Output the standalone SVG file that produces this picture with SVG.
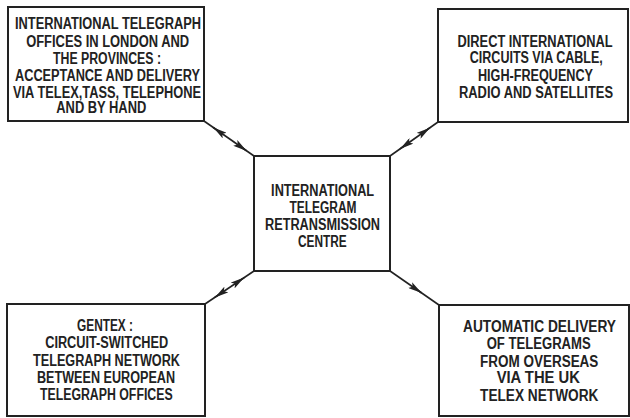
<svg xmlns="http://www.w3.org/2000/svg" width="630" height="418" viewBox="0 0 630 418">
<style>
  .box { fill: #ffffff; stroke: #222222; stroke-width: 2; }
  .lbl { font-family: "Liberation Sans", "DejaVu Sans", sans-serif; font-size: 16px; font-weight: bold; fill: #222222; }
  .conn { stroke: #222222; stroke-width: 1.6; fill: none; }
</style>
<defs>
  <marker id="ah" viewBox="0 0 14 7" refX="14" refY="3.5" markerWidth="14" markerHeight="7" markerUnits="userSpaceOnUse" orient="auto">
    <path d="M0,0 L14,3.5 L0,7 L3,3.5 z" fill="#222222"/>
  </marker>
</defs>
<rect x="0" y="0" width="630" height="418" fill="#ffffff"/>

<g id="connectors">
  <line class="conn" x1="204" y1="121" x2="254" y2="156"/>
  <path class="conn" d="M217.4,130.4 L213.3,127.5" marker-end="url(#ah)"/>
  <path class="conn" d="M242.6,148.0 L246.7,150.9" marker-end="url(#ah)"/>

  <line class="conn" x1="390" y1="156" x2="438" y2="122"/>
  <path class="conn" d="M425.9,130.6 L430,127.7" marker-end="url(#ah)"/>
  <path class="conn" d="M404.1,146.0 L400,148.9" marker-end="url(#ah)"/>

  <line class="conn" x1="254" y1="271" x2="205" y2="304"/>
  <path class="conn" d="M240.1,280.4 L244.2,277.6" marker-end="url(#ah)"/>
  <path class="conn" d="M218.9,294.6 L214.8,297.4" marker-end="url(#ah)"/>

  <line class="conn" x1="390" y1="271" x2="439" y2="305"/>
  <path class="conn" d="M417.6,290.2 L421.7,293.0" marker-end="url(#ah)"/>
</g>

<g id="offices">
  <rect class="box" x="8" y="7" width="196" height="114"/>
  <text class="lbl" x="108" y="29.3" text-anchor="middle" textLength="186" lengthAdjust="spacingAndGlyphs">INTERNATIONAL TELEGRAPH</text>
  <text class="lbl" x="107.7" y="46.7" text-anchor="middle" textLength="163" lengthAdjust="spacingAndGlyphs">OFFICES IN LONDON AND</text>
  <text class="lbl" x="107" y="64" text-anchor="middle" textLength="108" lengthAdjust="spacingAndGlyphs">THE PROVINCES :</text>
  <text class="lbl" x="107.5" y="81" text-anchor="middle" textLength="185" lengthAdjust="spacingAndGlyphs">ACCEPTANCE AND DELIVERY</text>
  <text class="lbl" x="107" y="97.7" text-anchor="middle" textLength="188" lengthAdjust="spacingAndGlyphs">VIA TELEX,TASS, TELEPHONE</text>
  <text class="lbl" x="101.3" y="113.3" text-anchor="middle" textLength="90" lengthAdjust="spacingAndGlyphs">AND BY HAND</text>
</g>

<g id="circuits">
  <rect class="box" x="438" y="9" width="190" height="113"/>
  <text class="lbl" x="535" y="46.7" text-anchor="middle" textLength="155" lengthAdjust="spacingAndGlyphs">DIRECT INTERNATIONAL</text>
  <text class="lbl" x="536.3" y="63.3" text-anchor="middle" textLength="133" lengthAdjust="spacingAndGlyphs">CIRCUITS VIA CABLE,</text>
  <text class="lbl" x="535.5" y="81" text-anchor="middle" textLength="115" lengthAdjust="spacingAndGlyphs">HIGH-FREQUENCY</text>
  <text class="lbl" x="536" y="98.3" text-anchor="middle" textLength="154" lengthAdjust="spacingAndGlyphs">RADIO AND SATELLITES</text>
</g>

<g id="centre">
  <rect class="box" x="254" y="156" width="136" height="115"/>
  <text class="lbl" x="322.6" y="196" text-anchor="middle" textLength="103" lengthAdjust="spacingAndGlyphs">INTERNATIONAL</text>
  <text class="lbl" x="323" y="212.7" text-anchor="middle" textLength="67" lengthAdjust="spacingAndGlyphs">TELEGRAM</text>
  <text class="lbl" x="322.5" y="230" text-anchor="middle" textLength="115" lengthAdjust="spacingAndGlyphs">RETRANSMISSION</text>
  <text class="lbl" x="322.3" y="246.7" text-anchor="middle" textLength="48.7" lengthAdjust="spacingAndGlyphs">CENTRE</text>
</g>

<g id="gentex">
  <rect class="box" x="7" y="304" width="198" height="112"/>
  <text class="lbl" x="105" y="330.7" text-anchor="middle" textLength="56" lengthAdjust="spacingAndGlyphs">GENTEX :</text>
  <text class="lbl" x="106.7" y="348.3" text-anchor="middle" textLength="123" lengthAdjust="spacingAndGlyphs">CIRCUIT-SWITCHED</text>
  <text class="lbl" x="106.5" y="366" text-anchor="middle" textLength="147" lengthAdjust="spacingAndGlyphs">TELEGRAPH NETWORK</text>
  <text class="lbl" x="106" y="383.3" text-anchor="middle" textLength="138" lengthAdjust="spacingAndGlyphs">BETWEEN EUROPEAN</text>
  <text class="lbl" x="106.3" y="400" text-anchor="middle" textLength="132.7" lengthAdjust="spacingAndGlyphs">TELEGRAPH OFFICES</text>
</g>

<g id="automatic">
  <rect class="box" x="439" y="305" width="190" height="111"/>
  <text class="lbl" x="539.5" y="331.7" text-anchor="middle" textLength="153" lengthAdjust="spacingAndGlyphs">AUTOMATIC DELIVERY</text>
  <text class="lbl" x="538.7" y="349" text-anchor="middle" textLength="104" lengthAdjust="spacingAndGlyphs">OF TELEGRAMS</text>
  <text class="lbl" x="539.2" y="366.7" text-anchor="middle" textLength="118.3" lengthAdjust="spacingAndGlyphs">FROM OVERSEAS</text>
  <text class="lbl" x="538.3" y="383.3" text-anchor="middle" textLength="83.3" lengthAdjust="spacingAndGlyphs">VIA THE UK</text>
  <text class="lbl" x="539.2" y="400.7" text-anchor="middle" textLength="118.3" lengthAdjust="spacingAndGlyphs">TELEX NETWORK</text>
</g>
</svg>
